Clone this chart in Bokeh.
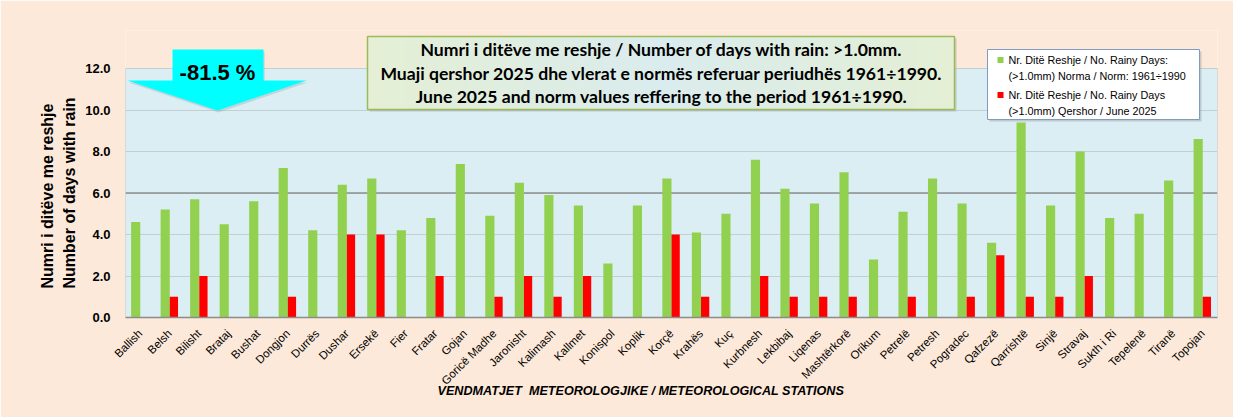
import math
from bokeh.plotting import figure
from bokeh.models import Range1d, FixedTicker, PrintfTickFormatter, Span, ColumnDataSource, Title
from bokeh.transform import dodge
from bokeh.core.properties import value
from bokeh.embed import file_html
from bokeh.resources import INLINE

# ---------------- data ----------------
stations = ["Ballish", "Belsh", "Bilisht", "Brataj", "Bushat", "Dongjon", "Durrës", "Dushar",
            "Ersekë", "Fier", "Fratar", "Gojan", "Goricë Madhe", "Jaronisht", "Kalimash",
            "Kallmet", "Konispol", "Koplik", "Korçë", "Krahës", "Kuç", "Kurbnesh", "Lekbibaj",
            "Liqenas", "Mashtërkorë", "Orikum", "Petrelë", "Petresh", "Pogradec", "Qafzezë",
            "Qarrishtë", "Sinjë", "Stravaj", "Sukth i Ri", "Tepelenë", "Tiranë", "Topojan"]
norm_days = [4.6, 5.2, 5.7, 4.5, 5.6, 7.2, 4.2, 6.4, 6.7, 4.2, 4.8, 7.4, 4.9, 6.5, 5.9,
             5.4, 2.6, 5.4, 6.7, 4.1, 5.0, 7.6, 6.2, 5.5, 7.0, 2.8, 5.1, 6.7, 5.5, 3.6,
             9.4, 5.4, 8.0, 4.8, 5.0, 6.6, 8.6]
june_days = [0, 1, 2, 0, 0, 1, 0, 4, 4, 0, 2, 0, 1, 2, 1, 2, 0, 0, 4, 1, 0, 2, 1, 1, 1,
             0, 1, 0, 1, 3, 1, 1, 2, 0, 0, 0, 1]
y_ticks = [0, 2, 4, 6, 8, 10, 12]
title_lines = ["Numri i ditëve me reshje / Number of days with rain: >1.0mm.",
               "Muaji qershor 2025 dhe vlerat e normës referuar periudhës 1961÷1990.",
               "June 2025 and norm values reffering to the period 1961÷1990."]
legend_lines = ["Nr. Ditë Reshje / No. Rainy Days:",
                "(>1.0mm) Norma / Norm: 1961÷1990",
                "Nr. Ditë Reshje / No. Rainy Days",
                "(>1.0mm) Qershor / June 2025"]
change_label = "-81.5 %"
y_title = ["Numri i ditëve me reshje", "Number of days with rain"]
x_title = "VENDMATJET\u00a0 METEOROLOGJIKE / METEOROLOGICAL STATIONS"

# ---------------- colours ----------------
PEACH = "#fde9d9"
PLOT_BG = "#daeef3"
GREEN = "#92d050"
RED = "#ff0000"
BOX_EDGE = (228, 239, 212)
BOX_MID = (218, 236, 238)

n = len(stations)
W, H = 1233, 417
FRAME_L, FRAME_R, FRAME_T, FRAME_B = 125, 1217, 30, 317  # canvas pixels
PYU = 20.75
Y_TOP = (FRAME_B - FRAME_T) / PYU
PXU = (FRAME_R - FRAME_L) / n


def ux(px):
    return -0.5 + (px - FRAME_L) / PXU


def vy(py):
    return (FRAME_B - py) / PYU


p = figure(width=W, height=H, output_backend="svg", toolbar_location=None,
           x_range=Range1d(-0.5, n - 0.5), y_range=Range1d(0, Y_TOP),
           min_border_left=FRAME_L, min_border_right=W - FRAME_R,
           min_border_top=FRAME_T, min_border_bottom=H - FRAME_B)
p.background_fill_color = PEACH
p.border_fill_color = PEACH
p.outline_line_color = None

# plot-area background
p.quad(left=[-0.5], right=[n - 0.5], bottom=[0], top=[max(y_ticks)],
       fill_color=PLOT_BG, line_color="#c4c4c4", line_width=1, level="image")

p.xgrid.visible = False
p.ygrid.grid_line_color = "#c2d0d6"
p.ygrid.grid_line_width = 1
p.add_layout(Span(location=6, dimension="width", line_color="#8c8f91", line_width=1.3, level="underlay"))

src = ColumnDataSource(dict(x=list(range(n)), norm=norm_days, june=june_days))
p.vbar(x=dodge("x", -0.155), top="norm", width=0.31, source=src,
       fill_color=GREEN, line_color=None)
p.vbar(x=dodge("x", 0.14), top="june", width=0.28, source=src,
       fill_color=RED, line_color=None)

# axes
p.xaxis.ticker = FixedTicker(ticks=list(range(n)))
p.xaxis.major_label_overrides = {i: s for i, s in enumerate(stations)}
p.xaxis.major_label_orientation = math.pi / 4
p.xaxis.major_tick_line_color = None
p.xaxis.minor_tick_line_color = None
p.xaxis.axis_line_color = "#8c8c8c"
p.xaxis.axis_line_width = 1.3
p.xaxis.major_label_text_font = "Liberation Sans"
p.xaxis.major_label_text_font_size = "11.5px"
p.xaxis.major_label_text_color = "#000000"
p.xaxis.major_label_standoff = 8

p.yaxis.ticker = FixedTicker(ticks=y_ticks)
p.yaxis.formatter = PrintfTickFormatter(format="%.1f")
p.yaxis.axis_line_color = None
p.yaxis.major_tick_line_color = None
p.yaxis.minor_tick_line_color = None
p.yaxis.major_label_text_font = "Liberation Sans"
p.yaxis.major_label_text_font_style = "bold"
p.yaxis.major_label_text_font_size = "13px"
p.yaxis.major_label_text_color = "#000000"
p.yaxis.major_label_standoff = 9

# axis titles (as side titles so they can sit outside the frame)
p.add_layout(Title(text="\n".join(y_title), align="left", offset=29, standoff=8,
                   text_font="Liberation Sans", text_font_style="bold",
                   text_font_size="16px", text_color="#000000", text_line_height=1.35), "left")
p.add_layout(Title(text=x_title, align="left", offset=312, standoff=-22,
                   vertical_align="top",
                   text_font="Liberation Sans", text_font_style="bold italic",
                   text_font_size="12.6px", text_color="#000000"), "below")

# arrow with change
arrow_px = [(172, 49), (263, 49), (263, 80), (306, 80), (217, 110), (127, 80), (172, 80)]
p.patch(x=[ux(a) + 0.04 for a, b in arrow_px], y=[vy(b + 2) for a, b in arrow_px],
        fill_color="#9aa7ab", fill_alpha=0.35, line_color=None)
p.patch(x=[ux(a) for a, b in arrow_px], y=[vy(b) for a, b in arrow_px],
        fill_color="#00ffff", line_color=None)
p.text(x=[ux(217)], y=[vy(72)], text=[change_label], text_align="center",
       text_baseline="middle", text_font=value("Liberation Sans"),
       text_font_style="bold", text_font_size="22px", text_color="#000000")

# title box (soft horizontal gradient: greenish edges, bluish centre)
BX0, BX1, BY0, BY1 = 367, 954, 36, 109
p.quad(left=[ux(BX0 + 2)], right=[ux(BX1 + 2)], top=[vy(BY0 + 2)], bottom=[vy(BY1 + 2)],
       fill_color="#a6a6a6", fill_alpha=0.5, line_color=None)
NS = 30
sl, sr, sc = [], [], []
for k in range(NS):
    a = BX0 + (BX1 - BX0) * k / NS
    b = BX0 + (BX1 - BX0) * (k + 1) / NS
    t = 1 - abs((k + 0.5) / NS - 0.5) * 2
    col = tuple(int(round(e + (m - e) * t)) for e, m in zip(BOX_EDGE, BOX_MID))
    sl.append(ux(a))
    sr.append(ux(b + 0.6))
    sc.append("#%02x%02x%02x" % col)
p.quad(left=sl, right=sr, top=[vy(BY0)] * NS, bottom=[vy(BY1)] * NS,
       fill_color=sc, line_color=None)
p.quad(left=[ux(BX0)], right=[ux(BX1)], top=[vy(BY0)], bottom=[vy(BY1)],
       fill_color=None, line_color="#9bbb59", line_width=1.5)
p.text(x=[ux(661)] * 3, y=[vy(49), vy(72.5), vy(96)], text=title_lines,
       text_align="center", text_baseline="middle", text_font=value("Lato"),
       text_font_style="bold", text_font_size="17.6px", text_color="#000000")

# legend box
p.quad(left=[ux(989)], right=[ux(1201)], top=[vy(51)], bottom=[vy(121)],
       fill_color="#a6a6a6", fill_alpha=0.5, line_color=None)
p.quad(left=[ux(987)], right=[ux(1199)], top=[vy(49)], bottom=[vy(119)],
       fill_color="#ffffff", line_color="#7f9cc0", line_width=1)
p.scatter(x=[ux(1000)] * 2, y=[vy(59.5), vy(94.5)], marker="square", size=6,
          fill_color=[GREEN, RED], line_color=None)
p.text(x=[ux(1008)] * 4, y=[vy(59.5), vy(75), vy(94.5), vy(110)], text=legend_lines,
       text_align="left", text_baseline="middle", text_font=value("Liberation Sans"),
       text_font_size="10.8px", text_color="#000000")

open("out.html", "w").write(file_html(p, INLINE))
